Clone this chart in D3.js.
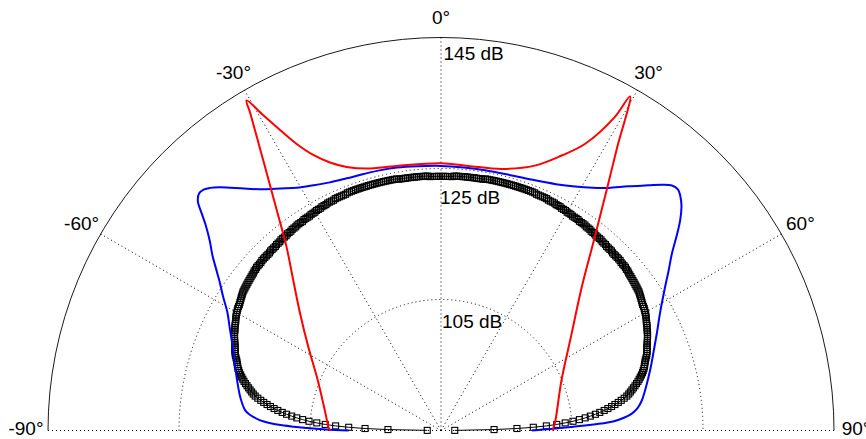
<!DOCTYPE html>
<html><head><meta charset="utf-8">
<script src="https://cdn.jsdelivr.net/npm/d3@7/dist/d3.min.js"></script>
<style>body{margin:0;background:#fff}svg{display:block}</style>
</head><body><svg id="c" width="866" height="439"></svg>
<script>
// ---- data ----
const ringValues = [105, 125, 145];
const ringLabels = ["105 dB", "125 dB", "145 dB"];
const spokeAngles = [-90, -60, -30, 0, 30, 60, 90];
const spokeLabels = ["-90°", "-60°", "-30°", "0°", "30°", "60°", "90°"];

const redAngles = [-90,-88.3,-81.8,-67.9,-57.9,-50.4,-44.6,-40.1,-36.95,-35.2,-32.6,-31.03,-30.5,-29.43,-28.18,-26.73,-24.87,-22.5,-19.69,-15.83,-9.51,0,5.9,13.1,19.5,23.7,26.7,29.0,29.5,31.86,34.55,38.5,44.5,53.5,67.5,86.6,90];
const redValues = [101.95,102.2,102.8,105.3,108.9,112.9,117.1,121.6,126.5,129.95,136.43,141.44,143.5,140.31,137.05,133.98,131.37,129.29,127.73,126.57,125.95,125.8,125.6,126.0,127.9,130.85,134.0,139.7,143.6,136.0,129.6,122.7,115.65,109.8,104.9,102.4,102.0];

const blueAngles = [-90,-89.5,-89,-88.5,-88,-87.5,-87,-86.5,-86,-85,-84,-82,-80,-76,-72,-68,-64,-61,-58.5,-56,-54.5,-52.5,-50.6,-48.8,-47.8,-46.7,-45.6,-44.5,-43.6,-42.3,-41,-38.7,-36.4,-33.5,-30.7,-27.5,-24.1,-20.5,-16.8,-13,-9.5,-5,0,5,9.6,15,20.6,25,28.8,32,34.6,37.5,40.2,42,43.3,44.5,45.5,47,48.7,50.5,52.55,55,57.4,61.5,65.85,70,74,78,81.5,83.5,85,86,87,87.5,88,88.5,89,89.5,90];
const blueValues = [99.1,102.5,105.0,107.5,109.8,111.2,112.2,113.0,113.6,114.5,115.1,115.7,116.2,117.1,118.1,119.3,120.9,122.3,124.0,125.8,127.1,129.0,130.7,132.8,134.3,136.0,136.7,136.6,136.15,135.2,134.1,132.3,130.75,129.3,128.1,127.2,126.5,126.1,125.9,125.8,125.7,125.5,125.4,125.3,125.3,125.4,125.8,126.5,127.5,128.7,130.0,132.0,134.0,135.5,136.4,136.6,136.2,135.2,133.6,131.6,129.4,127.4,125.6,123.1,121.1,119.5,118.2,117.0,116.0,115.2,114.2,113.0,111.3,109.5,107.0,104.5,102.5,100.5,98.9];

// black series: one value every 0.5 deg, -90 .. -0.5 then 0 .. 90
const blackValuesLeft = [null,
87.1,93.1,96.6,99.1,101.1,102.7,104.0,105.2,106.2,107.1,
107.9,108.7,109.4,110.1,110.7,111.3,111.85,112.4,112.9,113.4,
113.85,114.2,114.5,114.8,115.1,115.4,115.7,116.0,116.25,116.5,
116.75,117.0,117.2,117.4,117.55,117.7,117.85,118.0,118.2,118.4,
118.55,118.7,118.8,118.9,119.05,119.2,119.35,119.5,119.65,119.8,
119.9,120.0,120.15,120.3,120.4,120.5,120.65,120.8,120.9,121.0,
121.1,121.2,121.25,121.3,121.4,121.5,121.6,121.7,121.8,121.9,
121.95,122.0,122.05,122.1,122.15,122.2,122.25,122.3,122.35,122.4,
122.5,122.5,122.6,122.6,122.6,122.6,122.7,122.7,122.7,122.7,122.7,122.7,
122.8,122.8,122.8,122.8,122.9,122.9,122.9,123.0,123.0,123.0,123.0,
123.1,123.1,123.1,123.2,123.2,123.2,123.3,123.3,123.3,123.3,
123.4,123.4,123.4,123.4,123.5,123.5,123.5,123.6,123.6,123.6,123.7,123.7,123.7,
123.8,123.8,123.8,123.8,123.9,123.9,123.9,123.9,123.9,123.9,
124.0,124.0,124.0,124.0,124.0,124.0,124.0,124.0,124.0,124.0,124.0,124.0,
124.0,124.0,124.0,124.0,124.0,124.0,124.0,124.0,124.0,124.0,124.0,124.0,
123.9,123.9,123.9,123.9,123.9,123.9,123.9,123.9,123.9,123.9,123.9,123.9,123.9,123.9,
123.8,123.8,123.8,123.8,123.8];
const blackValuesRight = [123.8,123.8,123.8,123.8,123.8,123.8,
123.9,123.9,123.9,123.9,123.9,123.9,123.9,123.9,123.9,123.9,123.9,123.9,123.9,123.9,
124.0,124.0,124.0,124.0,124.0,124.0,124.0,124.0,124.0,124.0,124.0,124.0,
124.0,124.0,124.0,124.0,124.0,124.0,124.0,124.0,124.0,124.0,124.0,124.0,
123.9,123.9,123.9,123.9,123.9,123.9,
123.8,123.8,123.8,123.8,
123.7,123.7,123.7,123.6,123.6,123.6,123.5,123.5,123.5,123.4,123.4,123.4,123.4,
123.3,123.3,123.3,123.3,123.2,123.2,123.2,123.1,123.1,123.1,
123.0,123.0,123.0,123.0,122.9,122.9,122.9,122.8,122.8,122.8,122.8,
122.7,122.7,122.7,122.7,122.7,122.7,122.6,122.6,122.6,122.6,122.5,122.5,
122.4,122.35,122.3,122.25,122.2,122.15,122.1,122.05,122.0,121.95,
121.9,121.8,121.7,121.6,121.5,121.4,121.3,121.25,121.2,121.1,
121.0,120.9,120.8,120.65,120.5,120.4,120.3,120.15,120.0,119.9,
119.8,119.65,119.5,119.35,119.2,119.05,118.9,118.8,118.7,118.55,
118.4,118.2,118.0,117.85,117.7,117.55,117.4,117.2,117.0,116.75,
116.5,116.25,116.0,115.7,115.4,115.1,114.8,114.5,114.2,113.85,
113.4,112.9,112.4,111.85,111.3,110.7,110.1,109.4,108.7,107.9,
107.1,106.2,105.2,104.0,102.7,101.1,99.1,96.6,93.1,87.1,
null];

// ---- layout ----
const W = 866, H = 439, cx = 441, cy = 430.5, R = 393;
const font = "'Liberation Sans', Arial, Helvetica, sans-serif";
const svg = d3.select("#c");
svg.append("rect").attr("width", W).attr("height", H).attr("fill", "#fff");
const g = svg.append("g").attr("transform", `translate(${cx},${cy})`);

const r = d3.scaleLinear().domain([85, 145]).range([0, R]);
const rad = d => d * Math.PI / 180;

// grid rings
ringValues.forEach((v, i) => {
  const p = d3.path();
  p.arc(0, 0, r(v), Math.PI, 2 * Math.PI);
  const outer = i === ringValues.length - 1;
  g.append("path").attr("d", p.toString()).attr("fill", "none")
    .attr("stroke", outer ? "#1a1a1a" : "#000").attr("stroke-width", 1)
    .attr("stroke-dasharray", outer ? null : "1,3");
});
// spokes
spokeAngles.forEach(a => {
  g.append("line").attr("x1", 0).attr("y1", 0)
    .attr("x2", R * Math.sin(rad(a))).attr("y2", -R * Math.cos(rad(a)))
    .attr("stroke", "#000").attr("stroke-width", 1).attr("stroke-dasharray", "1,3");
});
// ring labels
const ringShift = [[1, 28.5], [-1, 35.5], [2.5, 22]];
ringValues.forEach((v, i) => {
  g.append("text").attr("x", ringShift[i][0]).attr("y", -r(v) + ringShift[i][1])
    .attr("font-family", font).attr("font-size", 19).attr("fill", "#000")
    .text(ringLabels[i]);
});
// angle labels (placed on a slightly flattened ring just outside the plot)
const labRx = R + 22, labRy = R + 18;
spokeAngles.forEach((a, i) => {
  g.append("text").attr("x", labRx * Math.sin(rad(a))).attr("y", -2 - labRy * Math.cos(rad(a)))
    .attr("text-anchor", "middle").attr("dominant-baseline", "central")
    .attr("font-family", font).attr("font-size", 19).attr("fill", "#000")
    .text(spokeLabels[i]);
});

// ---- series ----
const blackAngles = d3.range(-90, 90.001, 0.5);
const blackValues = blackValuesLeft.concat(blackValuesRight);
const black = blackAngles.map((a, i) => ({a, v: blackValues[i]}));
const blue = blueAngles.map((a, i) => ({a, v: blueValues[i]}));
const red = redAngles.map((a, i) => ({a, v: redValues[i]}));

const radial = d3.lineRadial().angle(d => rad(d.a)).radius(d => r(d.v)).defined(d => d.v != null);

g.append("path").attr("d", radial.curve(d3.curveLinear)(black))
  .attr("fill", "none").attr("stroke", "#000").attr("stroke-width", 1);
const ms = 6;
g.append("g").selectAll("rect").data(black.filter(d => d.v != null)).join("rect")
  .attr("x", d => r(d.v) * Math.sin(rad(d.a)) - ms / 2)
  .attr("y", d => -r(d.v) * Math.cos(rad(d.a)) - ms / 2)
  .attr("width", ms).attr("height", ms)
  .attr("fill", "none").attr("stroke", "#000").attr("stroke-width", 1.1);

g.append("path").attr("d", radial.curve(d3.curveCatmullRom.alpha(0.5))(blue))
  .attr("fill", "none").attr("stroke", "#0000ff").attr("stroke-width", 2).attr("stroke-linejoin", "round");
g.append("path").attr("d", radial.curve(d3.curveCatmullRom.alpha(0.5))(red))
  .attr("fill", "none").attr("stroke", "#ff0000").attr("stroke-width", 2).attr("stroke-linejoin", "miter");
</script></body></html>
